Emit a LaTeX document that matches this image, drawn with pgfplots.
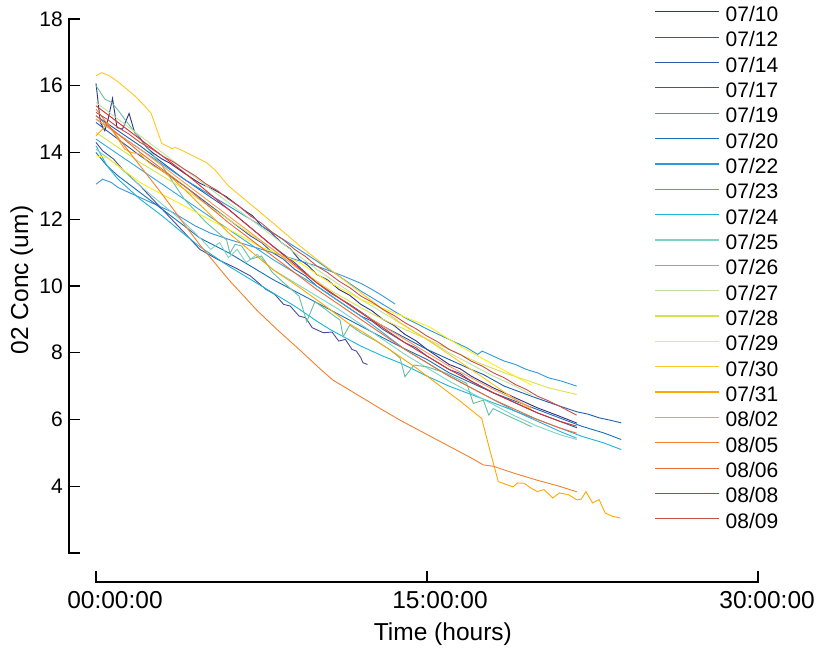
\documentclass[border=0pt]{standalone}
\usepackage{pgfplots}
\pgfplotsset{compat=1.18}
\usepackage{fontspec}
\setmainfont{Liberation Sans}
\definecolor{cA}{HTML}{2D3384}
\definecolor{cB}{HTML}{4B4B9B}
\definecolor{cC}{HTML}{2A5CB0}
\definecolor{cD}{HTML}{1F5FAF}
\definecolor{cE}{HTML}{3A96D6}
\definecolor{cF}{HTML}{1A70B8}
\definecolor{cG}{HTML}{2A9AD8}
\definecolor{cH}{HTML}{34AADC}
\definecolor{cI}{HTML}{1BB5D9}
\definecolor{cJ}{HTML}{7DD3C8}
\definecolor{cK}{HTML}{66BF9E}
\definecolor{cL}{HTML}{BFE2A0}
\definecolor{cM}{HTML}{D9E04E}
\definecolor{cN}{HTML}{FFEE10}
\definecolor{cO}{HTML}{FFC81E}
\definecolor{cP}{HTML}{FFA800}
\definecolor{cQ}{HTML}{FF9B50}
\definecolor{cR}{HTML}{F5802E}
\definecolor{cS}{HTML}{F06A35}
\definecolor{cT}{HTML}{E52A2A}
\definecolor{cU}{HTML}{C8504A}
\begin{document}
\begin{tikzpicture}
\begin{axis}[
  x=22.067pt, y=33.375pt,
  xmin=-1.2235, xmax=30, ymin=1.131, ymax=18,
  axis x line*=bottom, axis y line*=left,
  axis line style={draw=none},
  clip=false,
  xtick={0,15,30}, xticklabels={,,},
  ytick={2,4,6,8,10,12,14,16,18},
  yticklabels={,4,6,8,10,12,14,16,18},
  tick align=inside, major tick length=11pt,
  tick style={line width=1.3pt, black},
  /pgf/number format/assume math mode=true,
  yticklabel style={font=\fontsize{21}{21}\selectfont, inner sep=0pt, xshift=-6pt},
  every axis plot/.append style={line width=0.9pt},
  legend style={at={(axis cs:25.31,18.535)}, anchor=north west, draw=none, fill=none,
    inner sep=0pt, outer sep=0pt, row sep=0pt, column sep=6pt,
    font=\fontsize{21}{21}\selectfont,
    nodes={inner sep=0pt, text height=20.175pt, text depth=5.175pt}},
  legend cell align=left,
  legend image code/.code={\draw[#1, line width=1.2pt] (0pt,2pt) -- (64pt,2pt);},
]
% 07/10
\addplot[draw=cA] coordinates {(0,16.07)(0.2,14.9)(0.4,14.65)(0.55,15.0)(0.75,15.62)(0.95,14.75)(1.2,14.7)(1.5,15.17)(1.75,14.6)(2.0,14.43)(2.3,14.15)(2.6,13.98)(3.0,13.8)(3.35,13.68)(4.0,13.38)(4.7,13.08)(5.3,12.9)(5.9,12.68)(6.7,12.28)(7.1,12.1)(7.5,11.8)(7.9,11.62)(8.4,11.3)(8.8,11.12)(9.2,10.8)(9.6,10.62)(10,10.35)(10.5,10.18)(11,9.9)(11.5,9.72)(12,9.45)(12.5,9.26)(13,9.0)(13.5,8.82)(14,8.55)(14.5,8.36)(15,8.1)(16,7.65)(16.5,7.52)(17,7.3)(18,6.95)(19,6.65)(20,6.35)(21,6.1)(21.8,5.89)};
\addlegendentry{07/10}
% 07/12
\addplot[draw=cB] coordinates {(0,14.3)(0.3,14.05)(0.8,13.8)(1.2,13.5)(2,13.0)(3,12.3)(4,11.6)(4.7,11.1)(5.5,10.8)(6.3,10.55)(7,10.3)(7.7,9.9)(8.1,9.75)(8.5,9.45)(8.8,9.4)(9.2,9.1)(9.5,9.05)(9.8,8.75)(10.3,8.6)(10.7,8.62)(11,8.35)(11.3,8.4)(11.6,8.1)(11.8,8.05)(12,7.85)(12.1,7.7)(12.3,7.65)};
\addlegendentry{07/12}
% 07/14
\addplot[draw=cC] coordinates {(0,14.9)(1,14.4)(2,13.9)(3,13.45)(4,13.0)(5,12.5)(6,12.0)(7,11.5)(7.5,11.3)(8,11.0)(8.5,10.8)(9,10.5)(9.5,10.3)(10,10.0)(11,9.55)(12,9.1)(12.5,8.95)(13,8.7)(14,8.3)(14.5,8.15)(15,7.9)(16,7.5)(16.5,7.38)(17,7.15)(18,6.8)(19,6.5)(20,6.2)(21,5.95)(21.8,5.75)};
\addlegendentry{07/14}
% 07/17
\addplot[draw=cD] coordinates {(0,15.1)(1,14.65)(2,14.2)(3,13.7)(4,13.2)(5,12.75)(6,12.3)(7,11.75)(8,11.2)(9,10.7)(10,10.1)(10.6,9.8)(11.5,9.45)(12.5,9.0)(13,8.8)(14,8.45)(15,8.1)(16,7.8)(17,7.5)(17.55,7.35)(18.5,7.0)(19.8,6.68)(20.8,6.45)(21.8,6.23)(22.3,6.16)(22.8,6.05)(23.3,5.98)(23.8,5.9)};
\addlegendentry{07/17}
% 07/19
\addplot[draw=cE] coordinates {(0,13.05)(0.3,13.2)(0.7,13.1)(1,12.95)(1.5,12.8)(2,12.65)(2.5,12.5)(2.9,12.38)(3.5,12.2)(4,12.0)(4.5,11.8)(5.2,11.58)(6,11.4)(7,11.2)(8,11.0)(9,10.8)(10,10.6)(10.6,10.45)(11.2,10.3)(12,10.08)(12.5,9.9)(13,9.7)(13.55,9.46)};
\addlegendentry{07/19}
% 07/20
\addplot[draw=cF] coordinates {(0,14.0)(0.5,13.6)(1,13.3)(2,12.8)(3,12.3)(4,11.8)(4.7,11.44)(6,11.0)(7,10.6)(8,10.2)(9,9.85)(10,9.5)(11,9.15)(12,8.8)(13,8.45)(13.8,8.18)(15,7.8)(16,7.4)(17,7.1)(18,6.8)(19,6.55)(20,6.3)(21,6.05)(22,5.8)(23,5.6)(23.8,5.4)};
\addlegendentry{07/20}
% 07/22
\addplot[draw=cG] coordinates {(0,15.0)(1,14.55)(2,14.1)(3,13.65)(4,13.2)(5,12.8)(6,12.4)(7,12.0)(8,11.6)(9.24,11.08)(10,10.75)(11,10.3)(12,9.85)(13,9.45)(14,9.05)(15.1,8.68)(16,8.4)(16.8,8.15)(17.3,7.95)(17.5,8.05)(18,7.9)(18.5,7.75)(19,7.65)(19.5,7.5)(20,7.4)(20.5,7.25)(21.1,7.15)(21.78,7.0)};
\addlegendentry{07/22}
% 07/23
\addplot[draw=cH] coordinates {(0,14.4)(1,13.95)(2,13.5)(3,13.05)(4,12.6)(5,12.15)(6,11.7)(7,11.25)(8,10.8)(9,10.4)(10,10.0)(11,9.55)(12,9.1)(13,8.6)(14,8.1)(15,7.7)(16,7.3)(17,6.95)(18,6.6)(19,6.25)(20,5.95)(21,5.65)(21.78,5.44)};
\addlegendentry{07/23}
% 07/24
\addplot[draw=cI] coordinates {(0,14.2)(0.5,13.6)(1,13.2)(2,12.6)(3,12.1)(4,11.55)(4.7,11.18)(6,10.6)(7,10.2)(8,9.8)(9,9.4)(10,8.95)(10.6,8.7)(12,8.2)(13,7.9)(13.8,7.69)(15,7.3)(16,7.0)(17,6.75)(18,6.5)(19,6.25)(20,6.0)(21,5.75)(22,5.5)(23,5.3)(23.8,5.1)};
\addlegendentry{07/24}
% 07/25
\addplot[draw=cJ] coordinates {(0,14.1)(1,13.6)(2,13.0)(3,12.45)(4,11.9)(4.7,11.45)(5.2,11.1)(5.6,11.3)(6.0,10.85)(6.4,11.1)(6.8,10.7)(7.3,10.95)(8,10.5)(9,10.1)(10,9.7)(11,9.3)(12,8.85)(13,8.4)(14,7.95)(15,7.55)(16,7.15)(17,6.8)(18,6.45)(19,6.1)(20,5.8)(21,5.55)(21.78,5.4)};
\addlegendentry{07/25}
% 07/26
\addplot[draw=cK] coordinates {(0,16.0)(0.4,15.6)(0.7,15.5)(1.0,15.27)(1.3,15.0)(2,14.4)(3,13.6)(4,12.6)(5,11.9)(5.92,11.38)(6.07,10.98)(6.3,11.25)(6.6,11.2)(7,10.8)(7.5,10.9)(8,10.4)(8.5,10.1)(9.2,9.7)(9.55,8.93)(9.92,9.53)(10.4,9.3)(10.8,9.1)(11.06,8.98)(11.2,8.48)(11.5,8.83)(12,8.6)(12.7,8.35)(13.3,8.1)(13.78,7.84)(14.0,7.28)(14.4,7.63)(15.0,7.58)(15.9,7.38)(16.8,7.08)(17.1,6.48)(17.55,6.58)(17.8,6.13)(18.0,6.33)(18.6,6.13)(19.2,5.95)(19.74,5.78)};
\addlegendentry{07/26}
% 07/27
\addplot[draw=cL] coordinates {(0,15.5)(1,15.0)(2,14.5)(3,14.0)(4,13.5)(5,13.0)(6,12.5)(7,12.0)(8,11.5)(9,11.0)(10,10.5)(11,10.05)(12,9.6)(13,9.2)(14,8.8)(15,8.4)(16,8.0)(17,7.65)(18,7.3)(19,7.0)(19.74,6.73)};
\addlegendentry{07/27}
% 07/28
\addplot[draw=cM] coordinates {(0,14.6)(1,14.15)(2,13.7)(3,13.3)(4,12.9)(5,12.45)(6,12.0)(7,11.55)(8,11.1)(9,10.6)(10,10.15)(10.6,9.88)(12,9.35)(13,9.0)(14,8.7)(15.1,8.38)(16,8.1)(17.4,7.68)(18.5,7.4)(19.5,7.18)(20.5,6.95)(21.78,6.75)};
\addlegendentry{07/28}
% 07/29
\addplot[draw=cN] coordinates {(0,13.9)(0.5,13.85)(1,13.6)(2,13.1)(2.9,12.78)(4,12.4)(5.17,11.98)(6.3,11.6)(7.43,11.18)(8.3,10.95)(9.24,10.7)(10.6,10.1)(12,9.6)(13.5,9.2)(15.1,8.78)(16.5,8.2)(18,7.65)(19.74,7.03)};
\addlegendentry{07/29}
% 07/30
\addplot[draw=cO] coordinates {(0,16.3)(0.26,16.39)(0.6,16.3)(1,16.12)(1.4,15.9)(1.77,15.69)(2.2,15.4)(2.5,15.17)(2.75,14.7)(2.98,14.27)(3.2,14.2)(3.43,14.12)(3.6,14.15)(3.81,14.09)(4.1,14.0)(4.49,13.87)(5,13.7)(5.39,13.48)(6,13.0)(7,12.45)(8,11.9)(9.24,11.2)(10,10.8)(11,10.3)(12,9.8)(13,9.3)(13.78,8.9)(15,8.4)(16,7.95)(17,7.5)(18,7.05)(19,6.6)(19.74,6.3)};
\addlegendentry{07/30}
% 07/31
\addplot[draw=cP] coordinates {(0,14.5)(0.3,14.7)(0.5,14.9)(0.8,14.6)(1,14.4)(1.3,14.1)(1.6,14.0)(2,13.95)(2.3,13.75)(2.6,13.6)(3,13.45)(3.5,13.2)(4,12.9)(5,12.25)(6,11.6)(7,11.05)(8,10.5)(9.24,9.95)(10.6,9.3)(11.4,8.9)(12.27,8.55)(13.63,7.95)(14.5,7.55)(15.3,7.15)(16.5,6.55)(17.48,6.03)(17.8,5.2)(18.23,4.14)(18.6,4.05)(18.9,3.98)(19.1,4.1)(19.4,4.09)(19.7,3.95)(20.0,3.84)(20.3,3.9)(20.7,3.65)(21.0,3.8)(21.4,3.75)(21.8,3.59)(22.0,3.62)(22.2,3.84)(22.5,3.5)(22.8,3.6)(23.07,3.2)(23.4,3.1)(23.75,3.05)};
\addlegendentry{07/31}
% 08/02
\addplot[draw=cQ] coordinates {(0,15.0)(1,14.55)(2,14.1)(3,13.6)(4,13.1)(5,12.6)(6,12.1)(7,11.6)(8,11.1)(9,10.6)(10,10.1)(11,9.65)(12,9.2)(13,8.8)(14,8.4)(15,8.0)(16,7.6)(17,7.25)(18,6.9)(19,6.6)(19.74,6.35)};
\addlegendentry{08/02}
% 08/05
\addplot[draw=cR] coordinates {(0,15.3)(1,14.45)(2,13.6)(3,12.75)(4,11.85)(4.71,11.23)(6,10.2)(7.28,9.28)(8.2,8.7)(9.24,8.08)(10.15,7.52)(10.74,7.18)(12,6.68)(13,6.28)(13.78,5.98)(15,5.55)(16,5.2)(17,4.85)(17.55,4.64)(18,4.6)(19,4.38)(20,4.18)(21,4.0)(21.8,3.83)};
\addlegendentry{08/05}
% 08/06
\addplot[draw=cS] coordinates {(0,15.1)(1,14.55)(2,14.0)(3,13.5)(4,13.0)(5,12.45)(6,11.9)(7,11.4)(8,10.9)(9,10.4)(10,9.9)(11,9.45)(12,9.0)(13,8.55)(14,8.1)(15,7.7)(16,7.3)(17,6.95)(18,6.6)(19,6.3)(20,6.0)(21,5.75)(21.78,5.59)};
\addlegendentry{08/06}
% 08/08
\addplot[draw=cT] coordinates {(0,15.4)(1,14.9)(2,14.4)(3,13.9)(4,13.4)(5,12.85)(6,12.3)(7,11.75)(8,11.2)(9,10.65)(10,10.1)(11,9.65)(12,9.2)(13,8.75)(14,8.3)(15,7.9)(16,7.5)(17,7.15)(18,6.8)(19,6.5)(20,6.2)(21,5.95)(21.78,5.8)};
\addlegendentry{08/08}
% 08/09
\addplot[draw=cU] coordinates {(0,15.2)(0.5,15.0)(1,14.75)(1.5,14.55)(2,14.3)(2.5,14.12)(3,13.9)(3.5,13.72)(4,13.5)(4.5,13.3)(5,13.05)(5.5,12.86)(6,12.6)(6.5,12.38)(7,12.1)(7.5,11.88)(8,11.6)(8.5,11.38)(9,11.1)(9.5,10.88)(10,10.6)(10.5,10.4)(11,10.15)(11.5,9.95)(12,9.7)(12.5,9.52)(13,9.3)(13.5,9.12)(14,8.9)(14.5,8.72)(15,8.5)(15.5,8.32)(16,8.1)(16.5,7.95)(17,7.75)(17.5,7.6)(18,7.4)(18.5,7.25)(19,7.05)(19.5,6.9)(20,6.7)(20.5,6.56)(21,6.4)(21.78,6.13)};
\addlegendentry{08/09}
% axis lines
\draw[line width=1.6pt, line cap=rect] (axis cs:-1.2235,2) -- (axis cs:-1.2235,18);
\draw[line width=1.6pt, line cap=rect] (axis cs:0,1.131) -- (axis cs:30,1.131);
% x tick labels and axis labels
\node[anchor=base, inner sep=0pt, font=\fontsize{24.5}{24.5}\selectfont] at (axis cs:0.861,0.352) {00:00:00};
\node[anchor=base, inner sep=0pt, font=\fontsize{24.5}{24.5}\selectfont] at (axis cs:15.59,0.352) {15:00:00};
\node[anchor=base, inner sep=0pt, font=\fontsize{24.5}{24.5}\selectfont] at (axis cs:30.41,0.352) {30:00:00};
\node[anchor=base, inner sep=0pt, font=\fontsize{24.5}{24.5}\selectfont] at (axis cs:15.72,-0.607) {Time (hours)};
\node[anchor=base, rotate=90, inner sep=0pt, font=\fontsize{24.5}{24.5}\selectfont] at (axis cs:-3.08,10.18) {02 Conc (um)};
\coordinate (bbA) at (axis cs:-4.350,-1.056);
\coordinate (bbB) at (axis cs:32.627,18.569);
\end{axis}
\pgfresetboundingbox
\path[use as bounding box] (bbA) rectangle (bbB);
\end{tikzpicture}
\end{document}
